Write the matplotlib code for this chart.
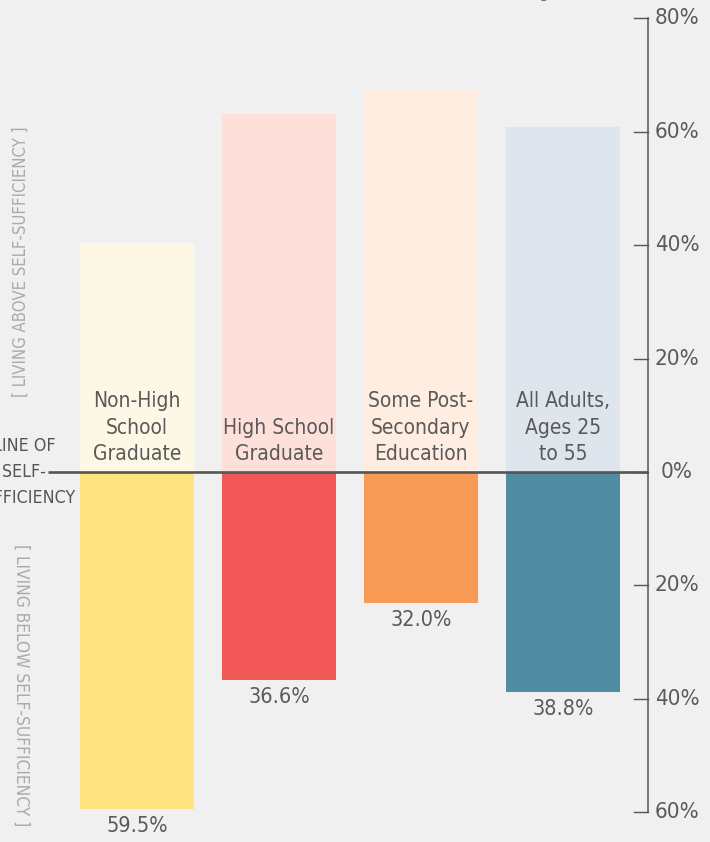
import matplotlib
matplotlib.use("Agg")
import matplotlib.pyplot as plt
import numpy as np

# data
categories = ["Non-High\nSchool\nGraduate", "High School\nGraduate",
              "Some Post-\nSecondary\nEducation", "All Adults,\nAges 25\nto 55"]
above = [40.3, 63.1, 67.6, 60.9]        # living above self-sufficiency (%)
below = [59.5, 36.6, 23.1, 38.8]        # drawn height of bar below the line (%)
below_labels = ["59.5%", "36.6%", "32.0%", "38.8%"]
tick_vals = [80, 60, 40, 20, 0, -20, -40, -60]
tick_labels = ["80%", "60%", "40%", "20%", "0%", "20%", "40%", "60%"]

light_cols = ["#fdf7e6", "#fde0da", "#feede0", "#dfe5ec"]
dark_cols = ["#fee381", "#f05756", "#f79a55", "#528ca3"]

plt.rcParams['font.family'] = ['DejaVu Sans']
plt.rcParams['font.stretch'] = 'condensed'
grey = "#5a5a5a"
bg = "#f0f0f0"

W, H = 710, 842
k = 5.67          # pixels per percentage point
zero_px = 472

fig = plt.figure(figsize=(W / 100, H / 100), dpi=100, facecolor=bg)
ax = fig.add_axes([0, 0, 1, 1])
ax.set_facecolor(bg)
ax.set_xlim(0, W)
ax.set_ylim(-(H - zero_px) / k, zero_px / k)
ax.axis("off")

x = 137 + 142 * np.arange(len(categories))
bw = 114

ax.bar(x, above, width=bw, color=light_cols, zorder=1)
ax.bar(x, [-v for v in below], width=bw, color=dark_cols, zorder=1)

for xi, lab in zip(x, categories):
    ax.text(xi, 8 / k, lab, ha="center", va="bottom", fontsize=15,
            color=grey, linespacing=1.4, multialignment="center", zorder=3)

for xi, v, lab in zip(x, below, below_labels):
    ax.text(xi, -v - 7 / k, lab, ha="center", va="top", fontsize=15.5,
            color=grey, zorder=3)

# line of self-sufficiency
ax.plot([48, 648], [0, 0], color="#555555", lw=1.9, zorder=4, solid_capstyle="butt")

# right-hand axis
ax.plot([648, 648], [min(tick_vals), max(tick_vals)], color="#555555", lw=1.1)
for tv, tl in zip(tick_vals, tick_labels):
    ax.plot([634, 648], [tv, tv], color="#555555", lw=1.0)
    ax.text(677, tv, tl, ha="center", va="center", fontsize=16, color=grey)

ax.text(24, 0, "LINE OF\nSELF-\nSUFFICIENCY", ha="center", va="center",
        fontsize=12.8, color="#555555", linespacing=1.55, multialignment="center",
        zorder=5)

ax.text(21, (zero_px - 262) / k, "[ LIVING ABOVE SELF-SUFFICIENCY ]", rotation=90,
        ha="center", va="center", fontsize=12, color="#aaaaaa")
ax.text(21, -(685 - zero_px) / k, "[ LIVING BELOW SELF-SUFFICIENCY ]", rotation=-90,
        ha="center", va="center", fontsize=12.4, color="#aaaaaa")

# cut-off title at the very top
ax.text(555, (zero_px + 5) / k, "Self-Sufficiency", ha="right", va="baseline",
        fontsize=20, fontweight="bold", color="#4a8a5a", clip_on=False)

fig.savefig("out.png", dpi=100, facecolor=bg)
